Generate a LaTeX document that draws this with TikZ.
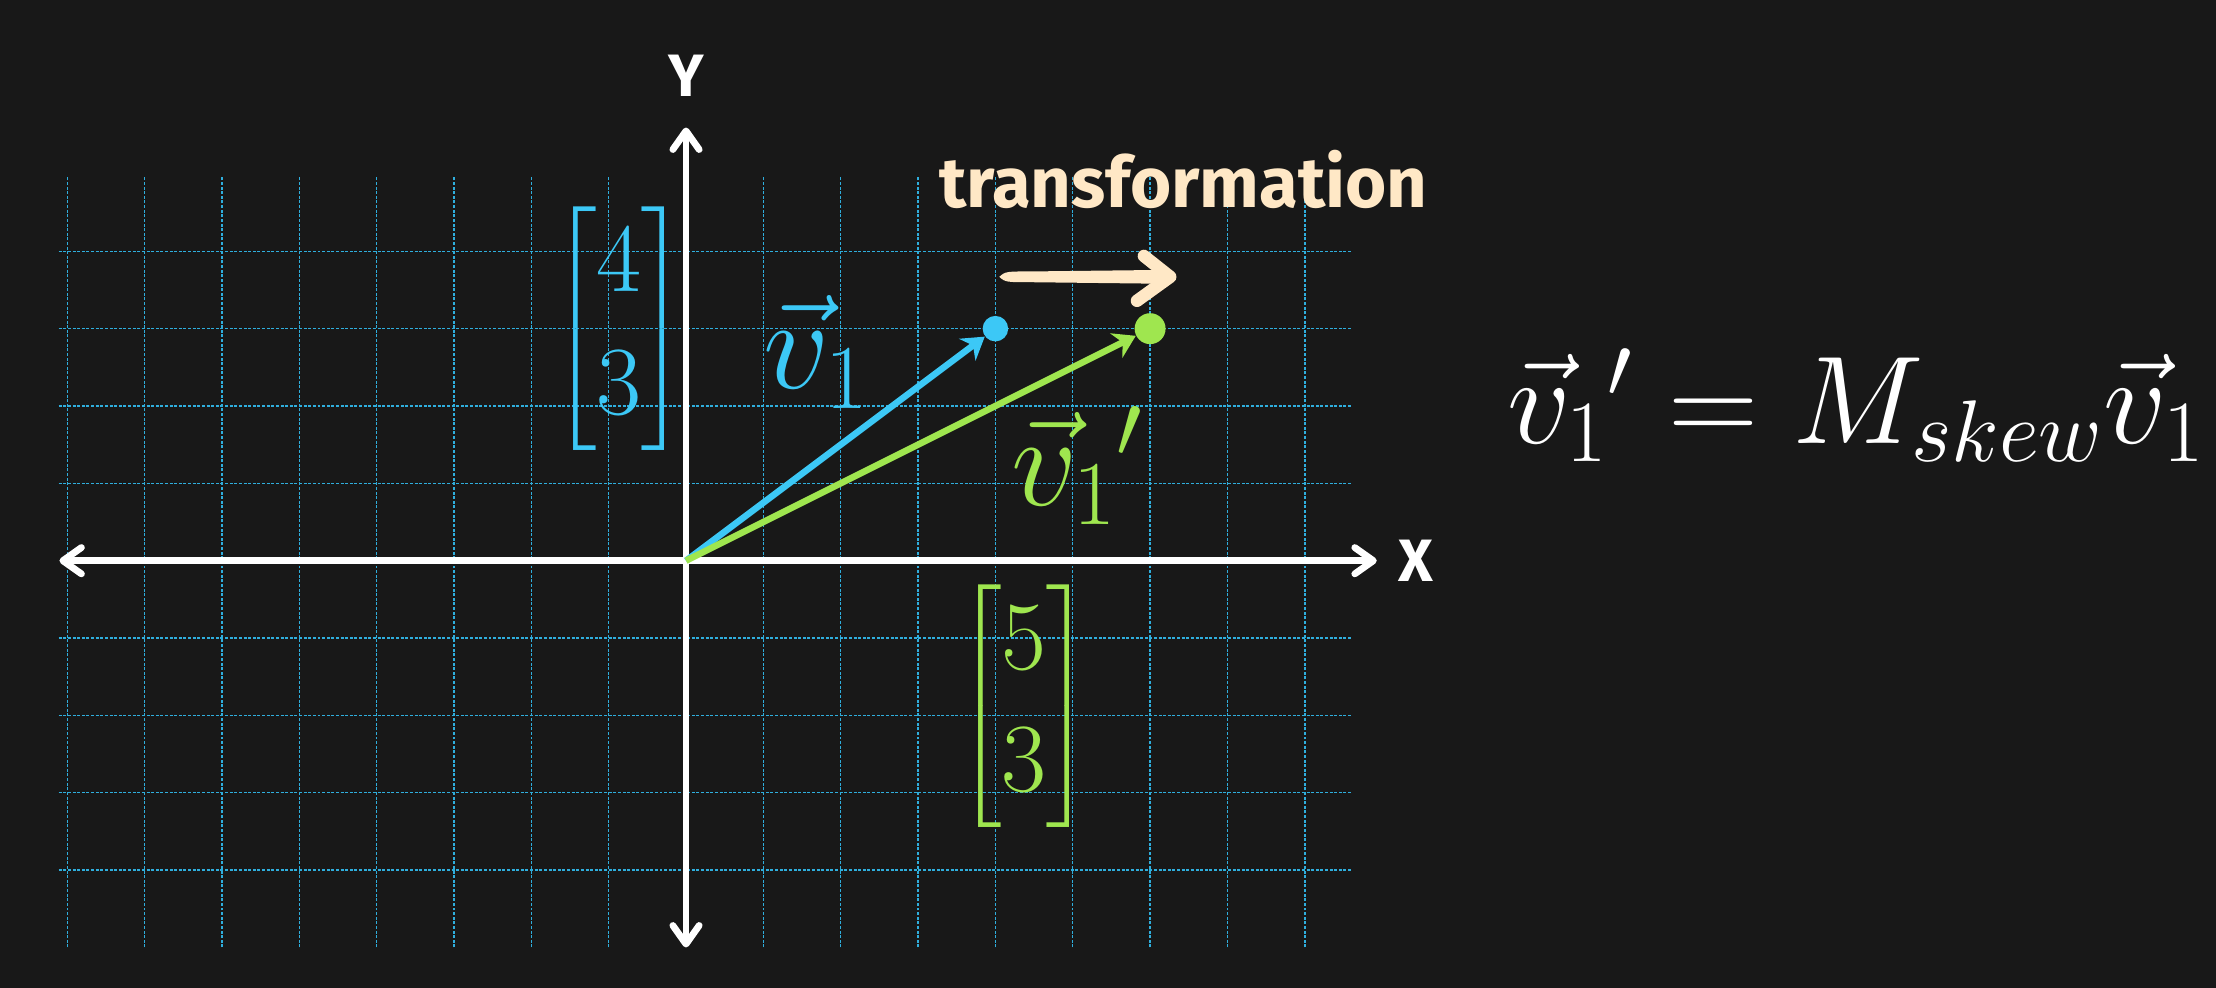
\RequirePackage{fix-cm}
\documentclass[tikz,border=0pt]{standalone}
\usepackage{amsmath}
\usepackage{fontspec}
\usepackage[HTML]{xcolor}
\usepackage{tikz}
\usetikzlibrary{positioning, arrows.meta, calc}
\newfontfamily\firafont{Fira Sans}

\definecolor{bgdark}{HTML}{181818}
\definecolor{vblue}{HTML}{3CC8F6}
\definecolor{vgreen}{HTML}{9FE64F}
\definecolor{gridblue}{HTML}{2FAEDD}
\definecolor{cream}{HTML}{FFE8C6}

\begin{document}
\begin{tikzpicture}[
  gridline/.style={gridblue, line width=0.5pt, dash pattern=on 1.1pt off 0.6pt},
  axis/.style={white, line width=2.5pt, {Straight Barb[round,length=2.4mm,width=3.4mm]}-{Straight Barb[round,length=2.4mm,width=3.4mm]}},
  vec/.style={line width=2.4pt, -{Stealth[length=8pt,width=10pt]}},
  tipdot/.style={circle, inner sep=0pt, minimum size=#1},
  axlabel/.style={text=white, inner sep=0pt, font=\firafont\bfseries\fontsize{22}{26}\selectfont},
  big/.style={inner sep=0pt, font=\fontsize{48}{58}\selectfont},
  col/.style={inner sep=0pt, font=\fontsize{36}{45}\selectfont},
]
% background
\fill[bgdark] (-8.869,-5.524) rectangle (19.78,7.249);
\useasboundingbox (-8.869,-5.524) rectangle (19.78,7.249);

% grid
\foreach \x in {-8,...,8} \draw[gridline] (\x,-5) -- (\x,4.96);
\foreach \y in {-4,-3,-2,-1,1,2,3,4} \draw[gridline] (-8.11,\y) -- (8.6,\y);

% axes
\coordinate (O) at (0,0);
\coordinate (XL) at (-8.1,0);
\coordinate (XR) at (8.93,0);
\coordinate (YB) at (0,-5.0);
\coordinate (YT) at (0,5.6);
\draw[axis] (XL) -- (XR);
\draw[axis] (YB) -- (YT);
\node[axlabel] (X) at (9.43,0) {X};
\node[axlabel] (Y) at (0,6.27) {Y};

% vectors
\node[tipdot=0.33cm, fill=vblue] (P) at (4,3) {};
\node[tipdot=0.40cm, fill=vgreen] (Q) at (6,3) {};
\draw[vec, vblue] (O) -- (P);
\draw[vec, vgreen] (O) -- (Q);

% labels
\node[big, text=vblue, anchor=base west] (L1) at (1.0,2.22) {$\vec{v}_1$};
\node[big, text=vgreen, anchor=base west] (L2) at (4.2,0.72) {$\vec{v}_1{}'$};
\node[col, text=vblue] (C1) at (-0.87,3.0) {$\begin{bmatrix}4\\3\end{bmatrix}$};
\node[col, text=vgreen] (C2) at (4.37,-1.88) {$\begin{bmatrix}5\\3\end{bmatrix}$};

% transformation
\node[text=cream, anchor=base, inner sep=0pt, font=\firafont\bfseries\fontsize{26}{30}\selectfont] (T) at (6.43,4.57) {transformation};
\coordinate (TS) at (4.05,3.67);
\coordinate (TE) at (6.26,3.67);
\fill[cream] (TS) .. controls ($(TS)+(0.08,0.07)$) .. ($(TS)+(0.45,0.07)$) -- ($(TE)+(-0.05,0.09)$) -- ($(TE)+(-0.05,-0.09)$) -- ($(TS)+(0.45,-0.07)$) .. controls ($(TS)+(0.08,-0.07)$) .. (TS) -- cycle;
\draw[cream, line width=4.6pt, line cap=round, line join=round] ($(TE)+(-0.34,0.27)$) -- (TE) -- ($(TE)+(-0.43,-0.31)$);

% equation
\node[inner sep=0pt, text=white, anchor=base west, font=\fontsize{46}{55}\selectfont] (EQ) at (10.61,1.52) {$\vec{v}_1{}' = M_{skew}\vec{v}_1$};
\end{tikzpicture}
\end{document}
